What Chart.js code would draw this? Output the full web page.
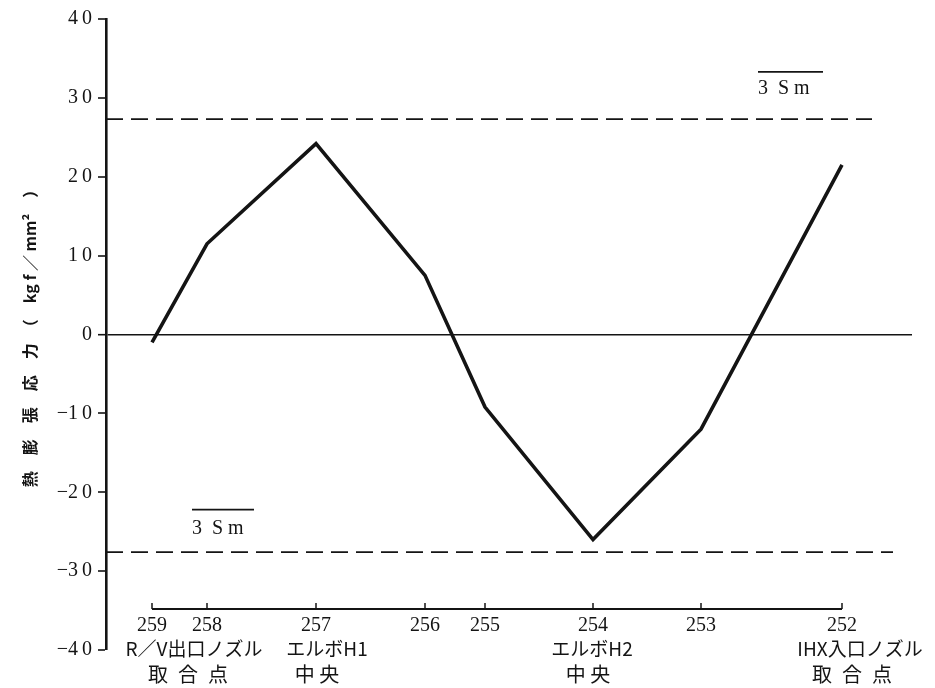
<!DOCTYPE html>
<html>
<head>
<meta charset="utf-8">
<script src="https://cdn.jsdelivr.net/npm/chart.js@4"></script>
<style>
  html, body { margin: 0; background: #fff; }
  #wrap { width: 935px; height: 688px; }
</style>
</head>
<body>
<div id="wrap"><canvas id="stressChart"></canvas></div>
<script>
const pointIds = ["259", "258", "257", "256", "255", "254", "253", "252"];
const pointPos = [0, 55, 164, 273, 333, 441, 549, 690];
const stress = [-1.0, 11.5, 24.2, 7.5, -9.2, -26.0, -12.0, 21.5];
const subLabels = ["R／V出口ノズル", "", "エルボH1", "", "", "エルボH2", "", "IHX入口ノズル"];
const subLabels2 = ["取\u2002合\u2002点", "", "中 央", "", "", "中 央", "", "取\u2002合\u2002点"];

// 3Sm limits
const upperLimit = 27.3;
const lowerLimit = -27.6;
const limitStart = -46;
const upperLimitEnd = 720;
const lowerLimitEnd = 741;

// 3Sm legend marks: [x1, x2, y] and text anchor [x, y]
const upperMark = [606, 671, 33.3];
const lowerMark = [40, 102, -22.2];
const upperMarkText = [606, 31.2];
const lowerMarkText = [40, -24.6];

const bracketY = -34.8;
const yMin = -40, yMax = 40, yStep = 10;

const ink = "#141414";

function fmtTick(v) {
  const digits = String(Math.abs(v)).split("").join("\u2009");
  return v < 0 ? "\u2212" + digits : digits;
}

const siteLabels = {
  id: "siteLabels",
  afterDatasetsDraw(chart) {
    const { ctx, scales: { x, y } } = chart;
    const by = y.getPixelForValue(bracketY);
    const off2 = [42, 0, 11, 0, 0, -1, 0, 18];
    const off3 = [36, 0, 1, 0, 0, -5, 0, 10];
    ctx.save();
    ctx.strokeStyle = ink;
    ctx.fillStyle = ink;
    ctx.lineWidth = 1.5;
    ctx.textAlign = "center";
    ctx.textBaseline = "middle";

    pointPos.forEach((p, i) => {
      const px = x.getPixelForValue(p);
      ctx.beginPath();
      ctx.moveTo(px, by);
      ctx.lineTo(px, by - 6);
      ctx.stroke();

      ctx.font = '20px "Liberation Serif", serif';
      ctx.fillText(pointIds[i], px, by + 17);

      if (subLabels[i]) {
        ctx.font = '19px "Noto Sans CJK JP"';
        ctx.fillText(subLabels[i], px + off2[i], by + 40);
      }
      if (subLabels2[i]) {
        ctx.font = '20px "Noto Sans CJK JP"';
        ctx.fillText(subLabels2[i], px + off3[i], by + 65);
      }
    });

    ctx.textAlign = "left";
    ctx.font = '20px "Liberation Serif", serif';
    ctx.fillText("3  S m", x.getPixelForValue(upperMarkText[0]), y.getPixelForValue(upperMarkText[1]));
    ctx.fillText("3  S m", x.getPixelForValue(lowerMarkText[0]), y.getPixelForValue(lowerMarkText[1]));
    ctx.restore();
  }
};

const ctx = document.getElementById("stressChart");

const stressChart = new Chart(ctx, {
  type: "line",
  data: {
    datasets: [
      {
        label: "stress",
        data: pointPos.map((p, i) => ({ x: p, y: stress[i] })),
        borderColor: ink,
        borderWidth: 3.6,
        pointRadius: 0,
        tension: 0
      },
      {
        label: "upper 3Sm",
        data: [{ x: limitStart, y: upperLimit }, { x: upperLimitEnd, y: upperLimit }],
        borderColor: ink,
        borderWidth: 1.7,
        borderDash: [17, 8],
        pointRadius: 0
      },
      {
        label: "lower 3Sm",
        data: [{ x: limitStart, y: lowerLimit }, { x: lowerLimitEnd, y: lowerLimit }],
        borderColor: ink,
        borderWidth: 1.7,
        borderDash: [17, 8],
        pointRadius: 0
      },
      {
        label: "upper mark",
        data: [{ x: upperMark[0], y: upperMark[2] }, { x: upperMark[1], y: upperMark[2] }],
        borderColor: ink,
        borderWidth: 1.6,
        pointRadius: 0
      },
      {
        label: "lower mark",
        data: [{ x: lowerMark[0], y: lowerMark[2] }, { x: lowerMark[1], y: lowerMark[2] }],
        borderColor: ink,
        borderWidth: 1.6,
        pointRadius: 0
      },
      {
        label: "bracket",
        data: [{ x: pointPos[0], y: bracketY }, { x: pointPos[pointPos.length - 1], y: bracketY }],
        borderColor: ink,
        borderWidth: 2,
        pointRadius: 0
      }
    ]
  },
  options: {
    responsive: true,
    maintainAspectRatio: false,
    animation: false,
    layout: { padding: { top: 19, right: 23, bottom: 38, left: 0 } },
    plugins: {
      legend: { display: false },
      tooltip: { enabled: false }
    },
    scales: {
      x: {
        type: "linear",
        display: false,
        min: limitStart,
        max: 760
      },
      y: {
        min: yMin,
        max: yMax,
        afterFit(scale) { scale.width = 106; },
        ticks: {
          stepSize: yStep,
          color: ink,
          padding: 6,
          font: { family: '"Liberation Serif", serif', size: 20 },
          callback: v => fmtTick(v)
        },
        grid: {
          color: c => (c.tick && c.tick.value === 0 ? ink : "rgba(0,0,0,0)"),
          lineWidth: c => (c.tick && c.tick.value === 0 ? 1.4 : 0),
          tickColor: ink,
          tickLength: 8,
          tickWidth: 1.6
        },
        border: { display: true, color: ink, width: 2.6 },
        title: {
          display: true,
          text: "熱　膨　張　応　力　（　kg f ／ mm²　）",
          color: ink,
          font: { family: '"Noto Sans CJK JP"', size: 16, weight: "bold" },
          padding: { top: 20, bottom: 0 }
        }
      }
    }
  },
  plugins: [siteLabels]
});
</script>
</body>
</html>
